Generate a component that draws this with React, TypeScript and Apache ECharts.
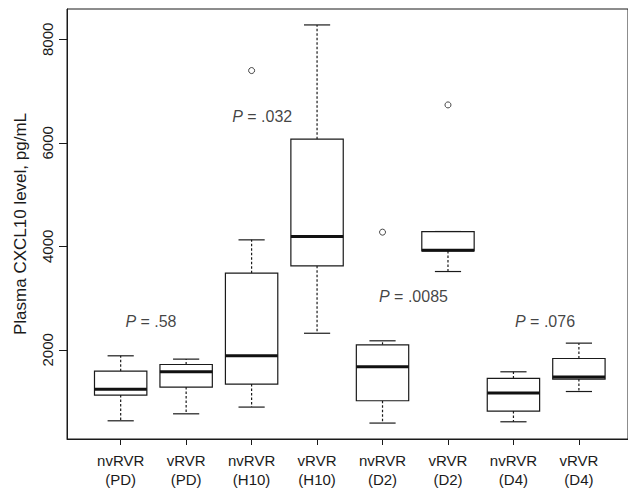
import React, { useEffect, useRef } from "react";
import * as echarts from "echarts";

const groups = ["nvRVR", "vRVR", "nvRVR", "vRVR", "nvRVR", "vRVR", "nvRVR", "vRVR"];
const periods = ["PD", "PD", "H10", "H10", "D2", "D2", "D4", "D4"];
const positions = [1, 2, 3, 4, 5, 6, 7, 8];
const lowerWhisker = [628, 763, 893, 2320, 584, 3513, 609, 1194];
const q1 = [1125, 1279, 1337, 3623, 1015, 3910, 816, 1434];
const median = [1240, 1575, 1884, 4190, 1672, 3926, 1163, 1473];
const q3 = [1588, 1716, 3482, 6070, 2097, 4286, 1446, 1832];
const upperWhisker = [1884, 1820, 4125, 8279, 2174, 4286, 1575, 2129];
const outliers: [number, number][] = [
  [3, 7397],
  [5, 4274],
  [6, 6733],
];
const pLabels = ["= .58", "= .032", "= .0085", "= .076"];
const pPositions: [number, number][] = [
  [1.47, 2547],
  [3.17, 6502],
  [5.48, 3024],
  [7.49, 2547],
];
const yTicks = [2000, 4000, 6000, 8000];
const yTitle = "Plasma CXCL10 level, pg/mL";

const FONT = "'Liberation Sans', Arial, Helvetica, sans-serif";
const INK = "#1a1a1a";

export default function App() {
  const ref = useRef<HTMLDivElement>(null);
  useEffect(() => {
    if (!ref.current) return;
    const chart = echarts.init(ref.current, undefined, { renderer: "svg" });
    const boxData = positions.map((p, i) => [
      p,
      lowerWhisker[i],
      q1[i],
      median[i],
      q3[i],
      upperWhisker[i],
    ]);
    const allVals = [...lowerWhisker, ...upperWhisker, ...outliers.map((o) => o[1])];
    const dMin = Math.min(...allVals);
    const dMax = Math.max(...allVals);
    const pad = (dMax - dMin) * 0.04;

    const option: any = {
      animation: false,
      backgroundColor: "#fff",
      grid: { left: 67, right: 0, top: 9, bottom: 51, show: true, borderColor: INK, borderWidth: 1, backgroundColor: "transparent" },
      xAxis: {
        type: "value",
        min: 0.18,
        max: 8.75,
        splitLine: { show: false },
        axisLine: { show: true, lineStyle: { color: INK, width: 1 } },
        axisTick: { show: true, customValues: positions, length: 6, lineStyle: { color: INK } },
        axisLabel: {
          customValues: positions,
          formatter: (v: number) => {
            const i = Math.round(v) - 1;
            return groups[i] + "\n(" + periods[i] + ")";
          },
          fontFamily: FONT,
          fontSize: 15,
          color: INK,
          lineHeight: 19,
          margin: 12,
        },
      },
      yAxis: {
        type: "value",
        min: dMin - pad,
        max: dMax + pad,
        splitLine: { show: false },
        axisLine: { show: true, lineStyle: { color: INK, width: 1 } },
        axisTick: { show: true, customValues: yTicks, length: 8, lineStyle: { color: INK } },
        axisLabel: {
          customValues: yTicks,
          formatter: (v: number) => String(v),
          rotate: 90,
          fontFamily: FONT,
          fontSize: 15,
          color: INK,
          margin: 12,
        },
        name: yTitle,
        nameLocation: "middle",
        nameGap: 38,
        nameTextStyle: { fontFamily: FONT, fontSize: 17, color: INK },
      },
      series: [
        {
          type: "custom",
          data: boxData,
          encode: { x: 0, y: [1, 2, 3, 4, 5] },
          renderItem: (params: any, api: any) => {
            const x = api.value(0);
            const lo = api.coord([x, api.value(1)]);
            const b1 = api.coord([x, api.value(2)]);
            const md = api.coord([x, api.value(3)]);
            const b3 = api.coord([x, api.value(4)]);
            const hi = api.coord([x, api.value(5)]);
            const bw = api.size([0.8, 0])[0];
            const cw = bw / 2;
            const cx = lo[0];
            const solid = { stroke: INK, lineWidth: 1.2, fill: null };
            const dashed = { stroke: INK, lineWidth: 1.2, lineDash: [2.5, 2], fill: null };
            return {
              type: "group",
              children: [
                { type: "line", shape: { x1: cx, y1: b3[1], x2: cx, y2: hi[1] }, style: dashed },
                { type: "line", shape: { x1: cx, y1: b1[1], x2: cx, y2: lo[1] }, style: dashed },
                { type: "line", shape: { x1: cx - cw / 2, y1: hi[1], x2: cx + cw / 2, y2: hi[1] }, style: solid },
                { type: "line", shape: { x1: cx - cw / 2, y1: lo[1], x2: cx + cw / 2, y2: lo[1] }, style: solid },
                {
                  type: "rect",
                  shape: { x: cx - bw / 2, y: b3[1], width: bw, height: b1[1] - b3[1] },
                  style: { fill: "#fff", stroke: INK, lineWidth: 1.2 },
                },
                { type: "line", shape: { x1: cx - bw / 2, y1: md[1], x2: cx + bw / 2, y2: md[1] }, style: { stroke: "#111", lineWidth: 3 } },
              ],
            };
          },
          z: 2,
        },
        {
          type: "scatter",
          data: outliers,
          symbol: "circle",
          symbolSize: 6,
          itemStyle: { color: "#fff", borderColor: INK, borderWidth: 1 },
          z: 3,
        },
        {
          type: "scatter",
          data: pPositions.map((p, i) => ({ value: p, label: { formatter: "{i|P} {n|" + pLabels[i] + "}" } })),
          symbolSize: 1,
          itemStyle: { color: "rgba(0,0,0,0)" },
          label: {
            show: true,
            position: [0, 0],
            align: "center",
            verticalAlign: "middle",
            fontFamily: FONT,
            fontSize: 16,
            color: "#111",
            textBorderWidth: 0,
            rich: {
              i: { fontStyle: "italic", fontFamily: FONT, fontSize: 16, color: "#111", textBorderWidth: 0 },
              n: { fontFamily: FONT, fontSize: 16, color: "#111", textBorderWidth: 0 },
            },
          },
          labelLayout: { hideOverlap: false },
          z: 4,
        },
      ],
    };
    chart.setOption(option);
    return () => chart.dispose();
  }, []);
  return <div ref={ref} style={{ position: "fixed", left: 0, top: 0, width: 628, height: 490, background: "#fff" }} />;
}
